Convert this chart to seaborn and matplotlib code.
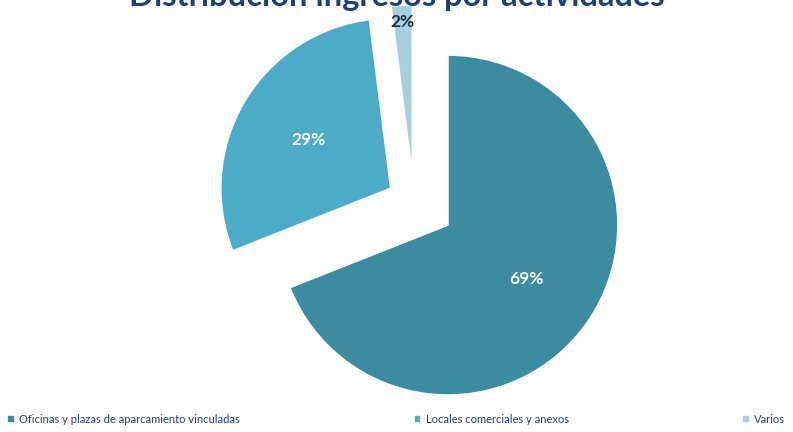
import numpy as np
import seaborn as sns
import matplotlib.pyplot as plt


TITLE = 'Distribución ingresos por actividades'
categories = ['Oficinas y plazas de aparcamiento vinculadas',
              'Locales comerciales y anexos',
              'Varios']
shares = [69, 29, 2]
slice_colors = ['#3b8ba1', '#4cabc6', '#a9cfdf']


def main():
    sns.set_style('white')
    plt.rcParams['font.family'] = ['Lato', 'DejaVu Sans']

    fig = plt.figure(figsize=(7.93, 4.32), dpi=100)
    ax = fig.add_axes([0, 0, 1, 1])

    pal = sns.color_palette(slice_colors)
    radius = 170
    center = (414, 230)
    wedges, texts, autotexts = ax.pie(
        shares, colors=pal, startangle=90, counterclock=False,
        radius=radius, center=center, explode=[41, 27, 27],
        autopct='%1.0f%%', pctdistance=0.56,
        wedgeprops=dict(edgecolor='white', linewidth=1.2),
        textprops=dict(fontsize=12.5, fontweight='bold', color='white'))

    # small slice: label near the outer arc, dark text
    w = wedges[2]
    mid = np.deg2rad((w.theta1 + w.theta2) / 2)
    cx, cy = w.center
    autotexts[2].set_position((cx + 0.9 * radius * np.cos(mid),
                               cy + 0.9 * radius * np.sin(mid)))
    autotexts[2].set_color('#1f2d3d')

    ax.set_xlim(0, 793)
    ax.set_ylim(0, 432)
    ax.set_aspect('equal')
    ax.axis('off')

    # title is clipped by the top edge as in the source image
    fig.text(0.5, 1 - 6 / 432, TITLE, ha='center', va='baseline',
             fontsize=23.5, fontweight='bold', color='#1f3f78')

    leg = fig.legend(wedges, categories, loc='lower left',
                     bbox_to_anchor=(0.0, 0.0), ncol=3, frameon=False,
                     fontsize=8, handlelength=0.7, handleheight=0.7,
                     handletextpad=0.4, columnspacing=15.6,
                     borderaxespad=0.25)
    for t in leg.get_texts():
        t.set_color('#1f3f78')

    plt.savefig('out.png', dpi=100)


if __name__ == '__main__':
    main()
